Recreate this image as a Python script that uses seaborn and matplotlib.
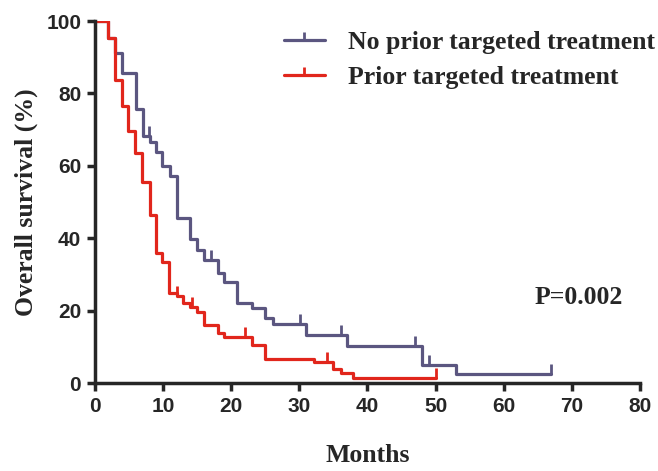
import numpy as np
import pandas as pd
import seaborn as sns
import matplotlib.pyplot as plt
from matplotlib.lines import Line2D

# Kaplan-Meier step data (month, survival %)
no_prior_t = [0, 1.9, 2.9, 3.9, 6.0, 7.0, 8.0, 9.0, 9.9, 11.0, 12.1, 13.9, 14.9, 16.0,
              18.0, 19.0, 20.8, 23.0, 25.0, 26.1, 30.9, 37.0, 48.0, 53.0, 67.0]
no_prior_s = [100, 95.3, 91.2, 85.7, 75.6, 68.2, 66.7, 63.9, 59.9, 57.2, 45.5, 39.7, 36.7, 34.0,
              30.3, 28.0, 22.2, 20.7, 17.9, 16.3, 13.3, 10.2, 5.0, 2.4, 2.4]
no_prior_cens = [7.9, 17.0, 30.1, 36.1, 47.0, 49.0, 67.0]

prior_t = [0, 1.9, 2.9, 3.9, 4.9, 5.9, 6.9, 8.0, 9.0, 9.9, 10.9, 12.0, 12.9, 13.9, 14.9, 16.0,
           18.0, 19.0, 23.1, 25.0, 32.1, 35.0, 36.1, 37.9, 50.0]
prior_s = [100, 95.3, 83.7, 76.4, 69.7, 63.6, 55.6, 46.4, 35.8, 33.5, 24.9, 24.0, 22.0, 21.1, 19.7, 16.0,
           13.7, 12.6, 10.5, 6.5, 5.9, 4.0, 2.7, 1.3, 1.3]
prior_cens = [12.0, 14.3, 22.0, 34.0, 50.0]

labels = ["No prior targeted treatment", "Prior targeted treatment"]
colors = ["#5b5680", "#e1261c"]


def surv_at(ts, ss, x):
    i = np.searchsorted(ts, x, side="right") - 1
    return ss[i]


df = pd.concat([
    pd.DataFrame({"month": no_prior_t, "surv": no_prior_s, "group": labels[0]}),
    pd.DataFrame({"month": prior_t, "surv": prior_s, "group": labels[1]}),
])

sns.set_style("ticks")
fig = plt.figure(figsize=(6.58, 4.71), dpi=100)
ax = fig.add_axes([0.1444, 0.1868, 0.8282, 0.7686])

sns.lineplot(data=df, x="month", y="surv", hue="group", palette=colors, estimator=None,
             drawstyle="steps-post", lw=2.3, legend=False, ax=ax)

# censor marks
for ts, ss, cens, c in [(no_prior_t, no_prior_s, no_prior_cens, colors[0]),
                        (prior_t, prior_s, prior_cens, colors[1])]:
    ys = [surv_at(ts, ss, x) for x in cens]
    ax.plot(cens, ys, ls="none", marker=2, ms=7, mew=2.0, color=c)

ax.set_xlim(0, 80)
ax.set_ylim(0, 100)
ax.set_xticks(range(0, 81, 10))
ax.set_yticks(range(0, 101, 20))
sns.despine(ax=ax)
for s in ["left", "bottom"]:
    ax.spines[s].set_linewidth(2.5)
ax.tick_params(width=2.5, length=6, labelsize=15, pad=4)
for lab in ax.get_xticklabels() + ax.get_yticklabels():
    lab.set_family(["Liberation Sans Narrow", "Liberation Sans"])
    lab.set_fontweight("bold")

serif = {"family": "Liberation Serif", "weight": "bold", "size": 18.5}
ax.set_xlabel("Months", fontdict=serif, labelpad=20)
ax.set_ylabel("Overall survival (%)", fontdict=serif, labelpad=6)
ax.text(71, 23.5, "P=0.002", fontdict=serif, ha="center", va="center")

handles = [Line2D([0], [0], color=c, lw=2.3, marker=2, ms=6, mew=2.0) for c in colors]
ax.legend(handles, labels, loc="upper right", bbox_to_anchor=(1.07, 1.035), frameon=False,
          prop={"family": "Liberation Serif", "weight": "bold", "size": 18.5},
          handlelength=1.6, handletextpad=0.9, labelspacing=0.45, numpoints=1)

fig.savefig("out.png", dpi=100)
